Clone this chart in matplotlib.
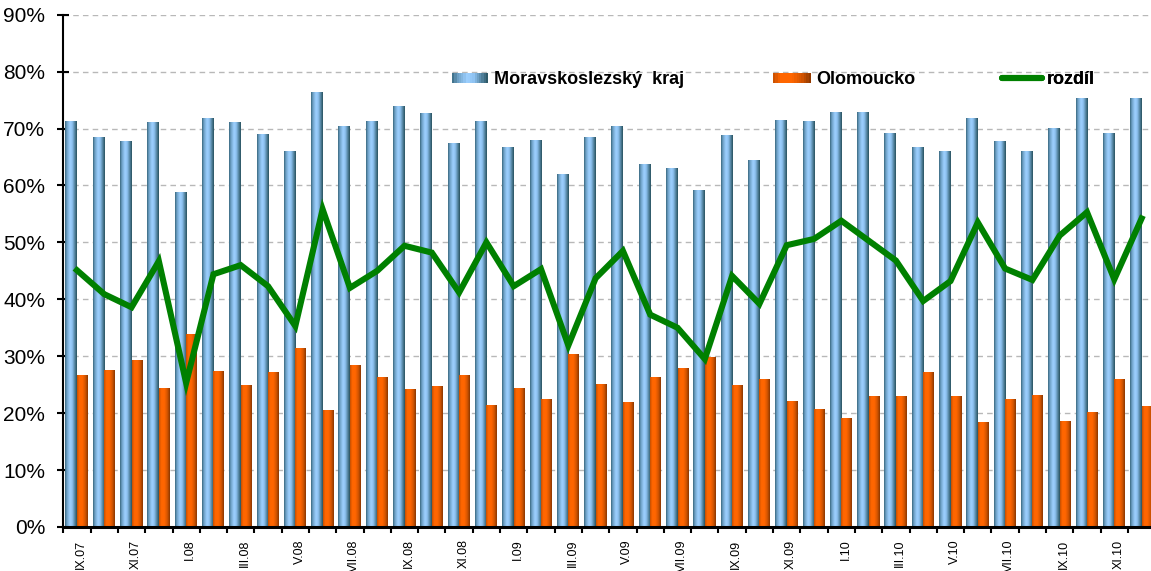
import numpy as np
import matplotlib
matplotlib.use("Agg")
import matplotlib.pyplot as plt
from matplotlib.colors import LinearSegmentedColormap
from matplotlib.patches import Rectangle
from matplotlib.lines import Line2D
from matplotlib.legend_handler import HandlerBase

plt.rcParams["font.family"] = ["Liberation Sans", "DejaVu Sans"]

months = ["IX.07", "X.07", "XI.07", "XII.07", "I.08", "II.08", "III.08", "IV.08",
          "V.08", "VI.08", "VII.08", "VIII.08", "IX.08", "X.08", "XI.08", "XII.08",
          "I.09", "II.09", "III.09", "IV.09", "V.09", "VI.09", "VII.09", "VIII.09",
          "IX.09", "X.09", "XI.09", "XII.09", "I.10", "II.10", "III.10", "IV.10",
          "V.10", "VI.10", "VII.10", "VIII.10", "IX.10", "X.10", "XI.10", "XII.10"]

# values in %
moravskoslezsky = [71.3, 68.5, 67.8, 71.0, 58.8, 71.7, 71.0, 69.0, 66.0, 76.4,
                   70.3, 71.3, 73.8, 72.7, 67.4, 71.3, 66.7, 67.9, 62.0, 68.5,
                   70.4, 63.6, 62.9, 59.2, 68.7, 64.4, 71.5, 71.3, 72.9, 72.9,
                   69.2, 66.6, 66.0, 71.7, 67.8, 66.0, 70.0, 75.2, 69.2, 75.2]
olomoucko = [26.6, 27.5, 29.2, 24.3, 33.8, 27.3, 24.8, 27.1, 31.3, 20.4,
             28.3, 26.2, 24.1, 24.6, 26.6, 21.3, 24.3, 22.4, 30.3, 25.0,
             21.8, 26.2, 27.8, 29.8, 24.8, 25.9, 22.0, 20.6, 19.0, 22.9,
             22.9, 27.1, 22.9, 18.3, 22.4, 23.1, 18.6, 20.1, 25.9, 21.1]
rozdil = [45.1, 40.9, 38.6, 46.7, 25.3, 44.4, 46.0, 42.3, 35.3, 55.8,
          42.0, 45.0, 49.4, 48.2, 41.2, 50.0, 42.3, 45.3, 31.9, 43.7,
          48.5, 37.3, 35.0, 29.5, 44.1, 39.2, 49.5, 50.6, 53.8, 50.3,
          46.8, 39.7, 43.2, 53.5, 45.4, 43.4, 51.2, 55.3, 43.5, 54.2]

yticks = list(range(0, 91, 10))

# cylinder-like shading for the bars
blue_cmap = LinearSegmentedColormap.from_list(
    "blue_cyl", [(0.0, "#38687e"), (0.15, "#6c9fc4"), (0.42, "#9dd0ff"),
                 (0.6, "#8fc3f2"), (0.85, "#4d7d97"), (1.0, "#28525f")])
orange_cmap = LinearSegmentedColormap.from_list(
    "orange_cyl", [(0.0, "#c44e00"), (0.2, "#ff6600"), (0.5, "#ff6600"),
                   (0.78, "#d05300"), (1.0, "#8a3700")])


class GradientPatchHandler(HandlerBase):
    def __init__(self, cmap, n=16):
        super().__init__()
        self.cmap = cmap
        self.n = n

    def create_artists(self, legend, orig_handle, xdescent, ydescent,
                       width, height, fontsize, trans):
        h = height * 0.75
        y0 = -ydescent + (height - h) / 2
        step = width / self.n
        arts = []
        for k in range(self.n):
            arts.append(Rectangle((-xdescent + k * step, y0), step * 1.05, h,
                                  facecolor=self.cmap((k + 0.5) / self.n),
                                  edgecolor="none", transform=trans))
        return arts


def gradient_bars(ax, lefts, width, heights, cmap):
    grad = np.linspace(0, 1, 64).reshape(1, -1)
    for x0, h in zip(lefts, heights):
        ax.imshow(grad, cmap=cmap, extent=[x0, x0 + width, 0, h],
                  aspect="auto", interpolation="bilinear", zorder=2)


fig = plt.figure(figsize=(11.51, 5.71), dpi=100)
ax = fig.add_axes([0.055, 0.0771, 0.9487, 0.8972])

x = np.arange(len(months))
gradient_bars(ax, x - 0.42, 0.42, moravskoslezsky, blue_cmap)
gradient_bars(ax, x, 0.40, olomoucko, orange_cmap)
ax.plot(x, rozdil, color="#008000", lw=4.4, zorder=4, solid_joinstyle="miter")

ax.set_xlim(-0.5, len(months) - 0.5)
ax.set_ylim(0, 90)
ax.set_aspect("auto")

ax.set_yticks(yticks)
ax.set_yticklabels([f"{v}%" for v in yticks])
ax.yaxis.grid(True, linestyle=(0, (4, 3)), color="#b8b8b8", lw=1)
ax.set_axisbelow(True)

# labels every second month, sitting a little right of the category centre
ax.set_xticks(x[::2] + 0.15)
ax.set_xticklabels(months[::2], rotation=90, fontsize=9)
ax.set_xticks(np.arange(-0.5, len(months), 1), minor=True)
ax.tick_params(axis="x", which="major", length=0, pad=9)
ax.tick_params(axis="x", which="minor", length=4, width=1.5, direction="out")
ax.tick_params(axis="y", direction="inout", length=9, width=1.5,
               labelsize=15, pad=8.5)

for side in ("top", "right"):
    ax.spines[side].set_visible(False)
ax.spines["left"].set_linewidth(1.5)
ax.spines["bottom"].set_linewidth(2.2)

# legend entries placed along one row inside the plot
W, H = 1151, 571
entries = [
    (Rectangle((0, 0), 1, 1), "Moravskoslezský  kraj", 452, 2.0, GradientPatchHandler(blue_cmap)),
    (Rectangle((0, 0), 1, 1), "Olomoucko", 773, 2.1, GradientPatchHandler(orange_cmap)),
    (Line2D([], [], color="#008000", lw=4.4, solid_capstyle="round"), "rozdíl", 1002, 2.2, None),
]
for handle, label, xpx, hlen, handler in entries:
    kw = {}
    if handler is not None:
        kw["handler_map"] = {Rectangle: handler}
    leg = ax.legend([handle], [label], loc="center left",
                    bbox_to_anchor=(xpx / W, 1 - 80 / H),
                    bbox_transform=fig.transFigure, frameon=False,
                    borderpad=0, borderaxespad=0, handlelength=hlen,
                    handletextpad=0.3,
                    prop={"size": 13, "weight": "bold"}, **kw)
    ax.add_artist(leg)

fig.savefig("out.png", dpi=100)
